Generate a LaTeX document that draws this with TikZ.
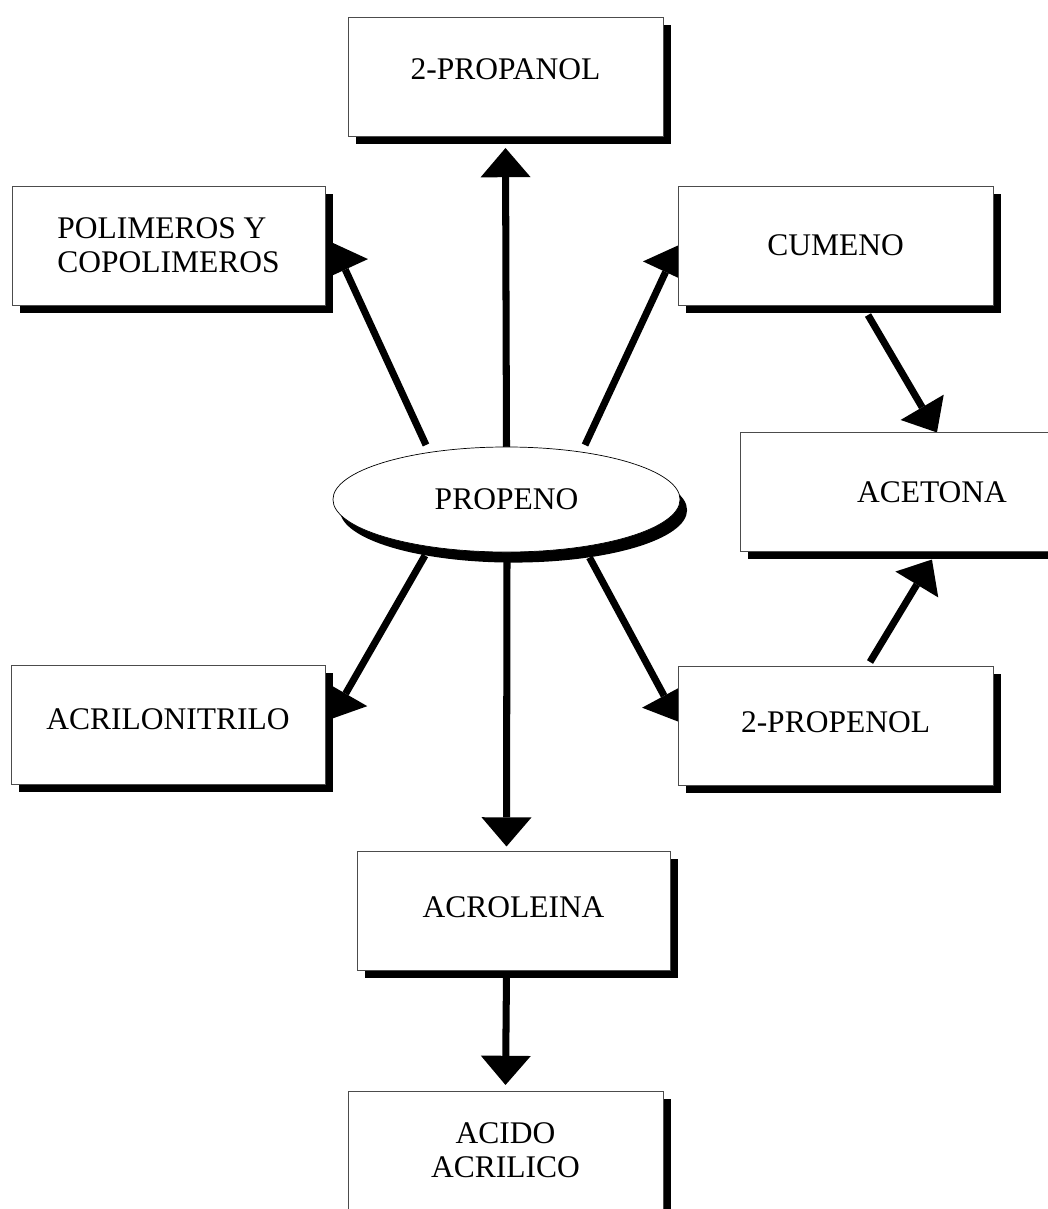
\documentclass[tikz,border=0pt]{standalone}
\usepackage{fontspec}
\setmainfont{Liberation Serif}
\usetikzlibrary{positioning}
\usetikzlibrary{shapes,arrows.meta}
\usetikzlibrary{backgrounds,shadows}
\usetikzlibrary{calc}

\begin{document}
\begin{tikzpicture}[x=0.025cm,y=-0.025cm]
\tikzstyle{caja}=[draw=black!70,line width=0.5pt,fill=white,minimum width=7.875cm,minimum height=2.975cm,inner sep=0pt,outer sep=0pt,font=\fontsize{22.4}{24.2}\selectfont,drop shadow={shadow xshift=5.5pt,shadow yshift=-5.5pt,opacity=1,fill=black}]
\tikzstyle{elipse}=[ellipse,draw,line width=0.5pt,fill=white,minimum width=8.675cm,minimum height=2.625cm,inner sep=0pt,outer sep=0pt,font=\fontsize{22.4}{24.2}\selectfont,drop shadow={shadow xshift=5pt,shadow yshift=-7.5pt,opacity=1,fill=black}]
\tikzstyle{flecha}=[line width=5pt,-{Triangle[width=1.25cm,length=0.73cm,line width=0pt]}]

\useasboundingbox (0,0) rectangle (1047,1209);

\node[elipse] (propeno) at (506.5,499.5) {PROPENO};
\node[caja,text depth=0.35cm] (propanol) at (505.5,76.5) {2-PROPANOL};
\node[caja,minimum width=7.825cm,align=left] (polimeros) at (168.5,245.5) {POLIMEROS Y\\COPOLIMEROS};
\node[caja] (cumeno) at (835.5,245.5) {CUMENO};
\node[caja,minimum width=9.6cm] (acetona) at (932,492) {ACETONA};
\node[caja,minimum width=7.85cm,text depth=0.3cm] (acrilonitrilo) at (168,725) {ACRILONITRILO};
\node[caja,text depth=0.15cm] (propenol) at (835.5,725.5) {2-PROPENOL};
\node[caja,minimum width=7.825cm,text depth=0.175cm] (acroleina) at (513.5,911) {ACROLEINA};
\node[caja,align=center] (acido) at (505.5,1150.5) {ACIDO\\ACRILICO};

\begin{scope}[on background layer]
\draw[flecha] (propeno.north) -- ($(propanol.south)+(0,12)$);
\draw[flecha] ($(propeno.center)+(-80.5,-54.5)$) -- ($(polimeros.east)+(8,-2.5)$);
\draw[flecha] ($(propeno.center)+(78.5,-54.5)$) -- (cumeno.west);
\draw[flecha] ($(propeno.center)+(-81.5,56)$) -- ($(acrilonitrilo.east)+(6,-6)$);
\draw[flecha] ($(propeno.center)+(0.5,56)$) -- ($(acroleina.north)+(-7,-5)$);
\draw[flecha] ($(propeno.center)+(83,58)$) -- ($(propenol.west)+(0,-4)$);
\draw[flecha] ($(acroleina.south)+(-7,4)$) -- ($(acido.north)+(0,-6)$);
\draw[flecha] ($(cumeno.south)+(32.5,10)$) -- ($(acetona.north west)+(197,0)$);
\draw[flecha] ($(propenol.north)+(34.5,-4)$) -- ($(acetona.south west)+(192,8)$);
\end{scope}
\end{tikzpicture}
\end{document}
